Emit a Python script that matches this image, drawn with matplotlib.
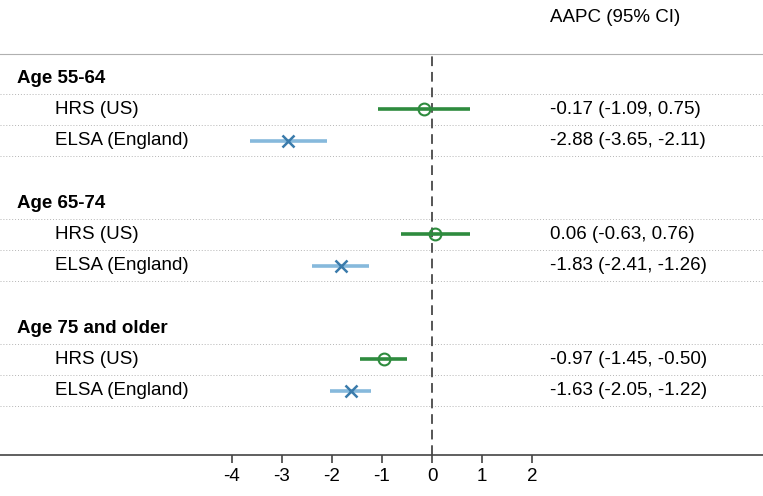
import matplotlib
matplotlib.use("Agg")
import matplotlib.pyplot as plt

plt.rcParams["font.family"] = ["Liberation Sans", "DejaVu Sans"]
plt.rcParams["font.size"] = 13.5

# Данные: AAPC и 95% ДИ по возрастным группам
groups = ["Age 55-64", "Age 65-74", "Age 75 and older"]
studies = ["HRS (US)", "ELSA (England)"]
hrs_est = [-0.17, 0.06, -0.97]
hrs_lo = [-1.09, -0.63, -1.45]
hrs_hi = [0.75, 0.76, -0.50]
elsa_est = [-2.88, -1.83, -1.63]
elsa_lo = [-3.65, -2.41, -2.05]
elsa_hi = [-2.11, -1.26, -1.22]
xticks = [-4, -3, -2, -1, 0, 1, 2]

GREEN = "#2e8b3e"
BLUE_LINE = "#86b9dc"
BLUE_MARK = "#3a7bab"
XMIN, XMAX = -8.64, 6.62
LEFT_X = XMIN + 17 / 50      # позиция заголовков групп
SUB_X = XMIN + 55 / 50       # позиция подписей исследований
TXT_X = XMIN + 550 / 50      # колонка AAPC

fig = plt.figure(figsize=(7.63, 4.96), dpi=100)
ax = fig.add_axes([0, 41 / 496, 1, 401 / 496])
ax.set_xlim(XMIN, XMAX)
ax.set_ylim(12.06, -0.77)

for s in ["left", "right"]:
    ax.spines[s].set_visible(False)
ax.spines["top"].set_color("#b0b0b0")
ax.spines["bottom"].set_color("#444444")
ax.spines["bottom"].set_linewidth(1.2)
ax.set_yticks([])
ax.set_xticks(xticks)
ax.set_xticklabels([str(t) for t in xticks])
ax.tick_params(axis="x", direction="out", length=5.5, width=1.2, color="#444444",
               pad=4, labelsize=13.5)

ax.axvline(0, color="#555555", linestyle=(0, (5, 3)), linewidth=1.4, zorder=1)

def fmt(e, lo, hi):
    return f"{e:.2f} ({lo:.2f}, {hi:.2f})"

for g, name in enumerate(groups):
    y0 = g * 4
    ax.text(LEFT_X, y0, name, fontweight="bold", va="center", ha="left")
    for k in range(3):
        ax.axhline(y0 + 0.5 + k, color="#b5b5b5", linestyle=(0, (1, 2)), linewidth=0.7, zorder=0)

    yh = y0 + 1
    ax.text(SUB_X, yh, studies[0], va="center", ha="left")
    ax.plot([hrs_lo[g], hrs_hi[g]], [yh, yh], color=GREEN, linewidth=2.6, solid_capstyle="butt", zorder=2)
    ax.plot(hrs_est[g], yh, marker="o", markersize=8.5, markerfacecolor="none",
            markeredgecolor=GREEN, markeredgewidth=1.5, zorder=3)
    ax.text(TXT_X, yh, fmt(hrs_est[g], hrs_lo[g], hrs_hi[g]), va="center", ha="left")

    ye = y0 + 2
    ax.text(SUB_X, ye, studies[1], va="center", ha="left")
    ax.plot([elsa_lo[g], elsa_hi[g]], [ye, ye], color=BLUE_LINE, linewidth=2.6, solid_capstyle="butt", zorder=2)
    ax.plot(elsa_est[g], ye, marker="x", markersize=8.5, color=BLUE_MARK,
            markeredgewidth=1.8, zorder=3)
    ax.text(TXT_X, ye, fmt(elsa_est[g], elsa_lo[g], elsa_hi[g]), va="center", ha="left")

ax.text(TXT_X, -1.95, "AAPC (95% CI)", va="center", ha="left", clip_on=False)

fig.savefig("out.png", dpi=100)
